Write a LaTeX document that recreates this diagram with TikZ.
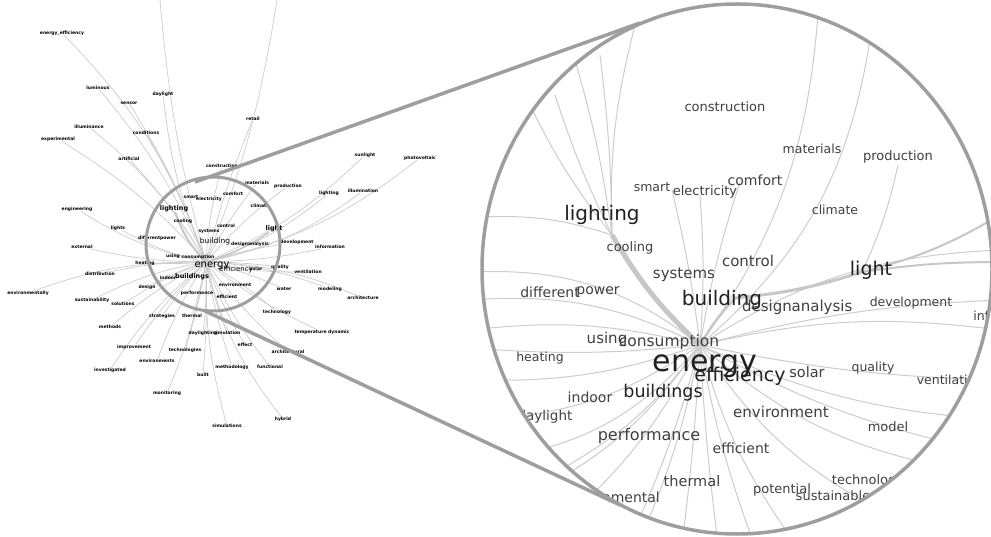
\documentclass[tikz,border=0pt]{standalone}
\usepackage{fontspec}
\setmainfont{DejaVu Sans}
\usetikzlibrary{positioning}
\definecolor{ringgray}{rgb}{0.62,0.62,0.62}
\definecolor{edgegray}{rgb}{0.80,0.80,0.80}
\definecolor{bundlegray}{rgb}{0.78,0.78,0.78}
\definecolor{wordink}{rgb}{0.26,0.24,0.27}
\definecolor{bigink}{rgb}{0.13,0.12,0.14}
\pgfdeclarelayer{bg}
\pgfsetlayers{bg,main}

\begin{document}
\begin{tikzpicture}[x=1pt,y=-1pt,
  tiny/.style={font=\fontsize{4.5}{4.5}\selectfont\bfseries, inner sep=0pt},
  small/.style={font=\fontsize{#1}{#1}\selectfont, inner sep=0pt},
  word/.style={font=\fontsize{#1}{#1}\selectfont, text=wordink, inner sep=0pt},
  bigword/.style={font=\fontsize{#1}{#1}\selectfont, text=bigink, inner sep=0pt},
  edge/.style={draw=edgegray, line width=0.7pt},
  bundle/.style={draw=bundlegray, line width=#1},
  ring/.style={draw=ringgray, line width=3.5pt},
]
\useasboundingbox (0,0) rectangle (991,537);

% Overview network (left)
\coordinate (lh) at (206,262);
\node[tiny] (eneff) at (62,33) {energy\_efficiency};
\node[tiny] (lumin) at (98,88) {luminous};
\node[tiny] (sensor) at (129,103) {sensor};
\node[tiny] (dayl) at (163,94) {daylight};
\node[tiny] (illum) at (89,127) {illuminance};
\node[tiny] (exper) at (58,139) {experimental};
\node[tiny] (condit) at (146,133) {conditions};
\node[tiny] (artif) at (129,159) {artificial};
\node[tiny] (constr) at (222,166) {construction};
\node[tiny] (retail) at (253,119) {retail};
\node[tiny] (sunl) at (365,155) {sunlight};
\node[tiny] (photov) at (420,158) {photovoltaic};
\node[tiny] (lightg) at (329,193) {lighting};
\node[tiny] (illumin) at (363,191) {illumination};
\node[tiny] (mater) at (257,183) {materials};
\node[tiny] (produc) at (288,186) {production};
\node[tiny] (devel) at (297,242) {development};
\node[tiny] (inform) at (330,247) {information};
\node[tiny] (qual) at (280,267) {quality};
\node[tiny] (vent) at (308,272) {ventilation};
\node[tiny] (water) at (284,289) {water};
\node[tiny] (modl) at (330,289) {modeling};
\node[tiny] (archi) at (363,298) {architecture};
\node[tiny] (techno) at (277,312) {technology};
\node[tiny] (tempdyn) at (322,332) {temperature dynamic};
\node[tiny] (archil) at (288,352) {architectural};
\node[tiny] (funct) at (270,367) {functional};
\node[tiny] (hybrid) at (283,419) {hybrid};
\node[tiny] (engin) at (77,209) {engineering};
\node[tiny] (lights) at (118,228) {lights};
\node[tiny] (extern) at (82,247) {external};
\node[tiny] (heat) at (145,263) {heating};
\node[tiny] (distr) at (100,274) {distribution};
\node[tiny] (envly) at (28,293) {environmentally};
\node[tiny] (design) at (147,287) {design};
\node[tiny] (sustty) at (92,300) {sustainability};
\node[tiny] (solut) at (123,304) {solutions};
\node[tiny] (strat) at (162,316) {strategies};
\node[tiny] (therm) at (192,316) {thermal};
\node[tiny] (meth) at (110,327) {methods};
\node[tiny] (daylg) at (203,333) {daylighting};
\node[tiny] (simul) at (227,333) {simulation};
\node[tiny] (improv) at (134,347) {improvement};
\node[tiny] (techs) at (185,350) {technologies};
\node[tiny] (effect) at (245,345) {effect};
\node[tiny] (envs) at (157,361) {environments};
\node[tiny] (invest) at (110,370) {investigated};
\node[tiny] (built) at (203,375) {built};
\node[tiny] (methy) at (232,367) {methodology};
\node[tiny] (monit) at (167,393) {monitoring};
\node[tiny] (sims) at (227,426) {simulations};

% words inside the zoom ring
\node[tiny] (ssmart) at (191,197) {smart};
\node[tiny] (selec) at (209,199) {electricity};
\node[tiny] (scomf) at (233,194) {comfort};
\node[small=6, font=\fontsize{6.5}{6.5}\selectfont\bfseries] (slighting) at (174,209) {lighting};
\node[tiny] (sclim) at (260,206) {climate};
\node[tiny] (scool) at (183,221) {cooling};
\node[tiny] (ssys) at (209,231) {systems};
\node[tiny] (scontrol) at (226,226) {control};
\node[small=6, font=\fontsize{6.5}{6.5}\selectfont\bfseries] (slight) at (274,229) {light};
\node[tiny] (sdiff) at (157,238) {differentpower};
\node[small=7.5] (sbuilding) at (215,241) {building};
\node[tiny] (sdesign) at (250,244) {designanalysis};
\node[tiny] (susing) at (173,256) {using};
\node[tiny] (scons) at (198,257) {consumption};
\node[small=10] (senergy) at (212,266) {energy};
\node[small=7] (seff) at (236,270) {efficiency};
\node[tiny] (ssolar) at (256,269) {solar};
\node[tiny] (sindoor) at (168,278) {indoor};
\node[small=6, font=\fontsize{6.5}{6.5}\selectfont\bfseries] (sbuildings) at (192,277) {buildings};
\node[tiny] (senv) at (235,285) {environment};
\node[tiny] (sperf) at (197,293) {performance};
\node[tiny] (seffic) at (227,297) {efficient};

\begin{pgfonlayer}{bg}
\foreach \n/\b in {eneff/-12, lumin/-8, sensor/-6, dayl/8, illum/-10, exper/-8,
    condit/-5, artif/-6, constr/6, retail/4, sunl/-10, photov/-12, lightg/-10,
    illumin/-12, mater/5, produc/6, devel/4, inform/-5, qual/3, vent/-6,
    water/5, modl/8, archi/10, techno/5, tempdyn/-6, archil/-5, funct/-6,
    hybrid/-12, engin/10, lights/8, extern/6, heat/3, distr/-6, envly/-10,
    design/-5, sustty/-8, solut/-6, strat/-4, therm/3, meth/-6, daylg/4,
    simul/-4, improv/-6, techs/4, effect/-5, envs/-6, invest/-8, built/3,
    methy/-4, monit/6, sims/-8}
  \draw[edge] (lh) to[bend left=\b] (\n);
\draw[edge] (lh) to[bend left=5] (160,0);
\draw[edge] (lh) to[bend right=6] (277,0);
\draw[bundle=2pt] (slighting) to[bend right=12] (lh);
\draw[bundle=1.5pt] (slight) to[bend left=8] (lh);
\end{pgfonlayer}

% zoom ring and guide lines
\coordinate (t1) at (195,182);
\coordinate (t2) at (640,23);
\coordinate (b1) at (205,311);
\coordinate (b2) at (620,505);
\draw[ring, line width=3pt] (213,244) circle [radius=67];
\draw[ring] (t1) -- (t2);
\draw[ring] (b1) -- (b2);

% magnified view
\begin{scope}[edge/.append style={line width=1pt}]
\clip (737,269) ellipse [x radius=255, y radius=265];
\coordinate (ehub) at (700,345);
\coordinate (lhub) at (612,235);
\coordinate (bhub) at (735,298);
\coordinate (lthub) at (862,272);
\foreach \px/\py/\b in {470/300/-15, 470/330/-10, 470/348/5, 470/380/10,
    480/420/15, 490/460/20, 470/272/-20, 560/525/10, 620/560/5, 680/560/2,
    720/560/-2, 760/560/-5, 800/550/-10, 1000/330/10, 1000/380/-5,
    1000/420/-10, 960/470/-15, 900/520/-15, 1000/250/15, 818/15/-15,
    870/40/-20, 740/182/4, 700/195/-4, 672/190/-3, 560/470/12, 640/540/6,
    1000/300/6, 980/450/-8, 520/500/14}
  \draw[edge] (ehub) to[bend left=\b] (\px,\py);
\foreach \px/\py/\b in {575/60/-4, 600/55/-3, 635/25/8, 530/105/6,
    555/95/4, 480/217/-10}
  \draw[edge] (lhub) to[bend left=\b] (\px,\py);
\draw[bundle=5pt] (lhub) to[bend right=8] (ehub);
\draw[bundle=3pt] (lthub) to[bend left=6] (bhub);
\draw[bundle=2pt] (lthub) to[bend right=8] (1000,215);
\draw[bundle=2pt] (lthub) to[bend left=4] (1000,262);
\draw[edge] (898,165) to[bend left=6] (lthub);
\draw[bundle=2.5pt] (bhub) to[bend right=6] (ehub);

\node[word=13] (construction) at (725,107) {construction};
\node[word=12.5] (materials) at (812,149) {materials};
\node[word=13] (production) at (898,157) {production};
\node[word=14] (comfort) at (755,180) {comfort};
\node[word=12.5] (smart) at (652,187) {smart};
\node[word=13] (electricity) at (705,192) {electricity};
\node[word=12.5] (climate) at (835,210) {climate};
\node[bigword=20] (lighting) at (602,215) {lighting};
\node[word=13] (cooling) at (630,248) {cooling};
\node[word=15] (control) at (748,261) {control};
\node[bigword=19] (light) at (871,270) {light};
\node[word=15] (systems) at (684,275) {systems};
\node[word=14] (different) at (550,292) {different};
\node[word=14] (power) at (598,292) {power};
\node[bigword=20] (building) at (722,300) {building};
\node[word=15] (design) at (767,307) {design};
\node[word=15] (analysis) at (822,307) {analysis};
\node[word=12.5] (development) at (911,303) {development};
\node[word=12.5] (info) at (985,316) {info};
\node[word=15] (using) at (607,339) {using};
\node[word=15.5] (consumption) at (669,342) {consumption};
\node[word=12.5] (heating) at (540,358) {heating};
\node[bigword=30] (energy) at (705,366) {energy};
\node[bigword=19] (efficiency) at (740,376) {efficiency};
\node[word=14.5] (solar) at (807,372) {solar};
\node[word=12.5] (quality) at (873,368) {quality};
\node[word=12.5] (ventilation) at (950,380) {ventilation};
\node[bigword=17.5] (buildings) at (663,393) {buildings};
\node[word=14] (indoor) at (590,397) {indoor};
\node[word=13.5] (daylight) at (545,417) {daylight};
\node[word=15] (environment) at (781,412) {environment};
\node[word=13] (model) at (888,427) {model};
\node[word=16] (performance) at (649,436) {performance};
\node[word=14] (efficient) at (741,448) {efficient};
\node[word=14.5] (thermal) at (692,481) {thermal};
\node[word=14] (environmental) at (609,497) {environmental};
\node[word=13] (potential) at (782,490) {potential};
\node[word=13] (sustainable) at (833,496) {sustainable};
\node[word=13] (technology) at (868,481) {technology};
\end{scope}
\draw[ring] (737,269) ellipse [x radius=255, y radius=265];
\end{tikzpicture}
\end{document}
